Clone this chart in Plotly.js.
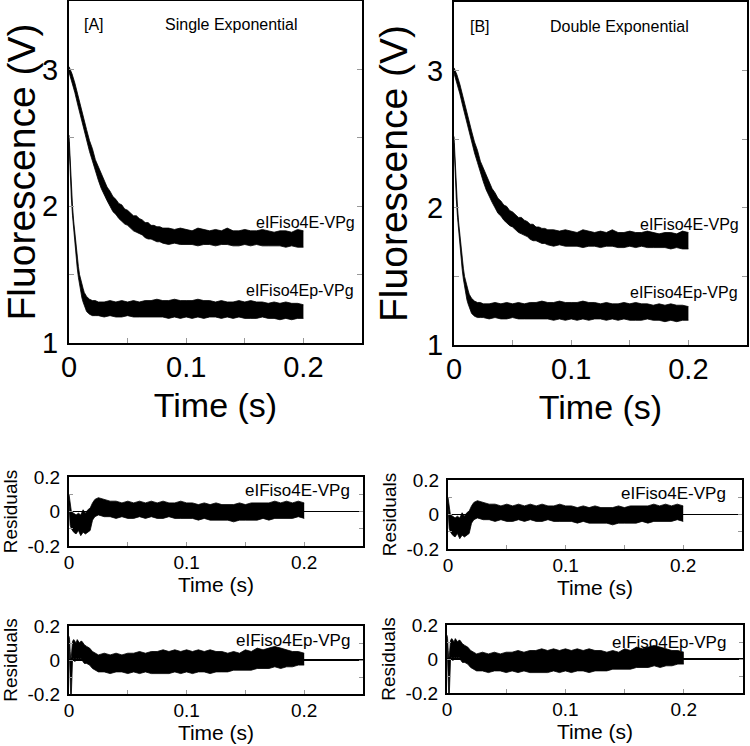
<!DOCTYPE html>
<html>
<head>
<meta charset="utf-8">
<script src="https://cdn.plot.ly/plotly-3.0.1.min.js"></script>
<style>html,body{margin:0;padding:0;background:#fff;}#chart{width:750px;height:746px;}</style>
</head>
<body>
<div id="chart"></div>
<script>
// ---- eIFiso4E-VPg fluorescence trace (band envelope) ----
const tE = [0,0.0025,0.005,0.0075,0.01,0.0125,0.015,0.0175,0.02,0.0225,0.025,0.0275,0.03,0.0325,0.035,0.0375,0.04,0.0425,0.045,0.0475,0.05,0.0525,0.055,0.0575,0.06,0.0625,0.065,0.0675,0.07,0.0725,0.075,0.0775,0.08,0.085,0.09,0.095,0.1,0.105,0.11,0.115,0.12,0.125,0.13,0.135,0.14,0.145,0.15,0.155,0.16,0.165,0.17,0.175,0.18,0.185,0.19,0.195,0.2];
const fluorE_upper = [3.02,2.97,2.90,2.81,2.72,2.65,2.56,2.48,2.42,2.34,2.29,2.23,2.18,2.14,2.11,2.07,2.05,2.02,2.01,1.98,1.97,1.95,1.93,1.93,1.91,1.90,1.88,1.88,1.86,1.86,1.85,1.85,1.84,1.84,1.83,1.84,1.83,1.82,1.84,1.83,1.82,1.83,1.82,1.84,1.82,1.82,1.83,1.82,1.82,1.83,1.82,1.81,1.82,1.82,1.81,1.83,1.82];
const fluorE_lower = [2.98,2.91,2.83,2.74,2.65,2.57,2.48,2.40,2.33,2.25,2.19,2.13,2.08,2.04,2.00,1.96,1.94,1.91,1.89,1.87,1.86,1.84,1.82,1.81,1.80,1.79,1.77,1.76,1.76,1.75,1.74,1.74,1.73,1.72,1.73,1.72,1.72,1.72,1.71,1.72,1.72,1.71,1.72,1.72,1.71,1.71,1.72,1.71,1.72,1.71,1.71,1.71,1.71,1.70,1.71,1.70,1.70];

// ---- eIFiso4Ep-VPg fluorescence trace ----
const tEp = [0,0.0005,0.001,0.0015,0.002,0.003,0.004,0.005,0.006,0.007,0.008,0.009,0.01,0.011,0.012,0.013,0.014,0.015,0.0175,0.02,0.0225,0.025,0.03,0.035,0.04,0.045,0.05,0.055,0.06,0.065,0.07,0.075,0.08,0.085,0.09,0.095,0.1,0.105,0.11,0.115,0.12,0.125,0.13,0.135,0.14,0.145,0.15,0.155,0.16,0.165,0.17,0.175,0.18,0.185,0.19,0.195,0.2];
const fluorEp_upper = [2.52,2.41,2.31,2.21,2.13,2.00,1.89,1.80,1.71,1.63,1.56,1.50,1.46,1.43,1.40,1.37,1.35,1.34,1.32,1.31,1.31,1.30,1.30,1.31,1.30,1.31,1.30,1.31,1.30,1.31,1.31,1.32,1.31,1.31,1.32,1.31,1.31,1.31,1.32,1.31,1.31,1.30,1.31,1.30,1.30,1.31,1.30,1.31,1.30,1.30,1.29,1.30,1.29,1.30,1.29,1.29,1.28];
const fluorEp_lower = [2.47,2.34,2.24,2.14,2.06,1.93,1.82,1.72,1.63,1.55,1.48,1.42,1.37,1.33,1.30,1.27,1.25,1.23,1.21,1.20,1.20,1.20,1.19,1.20,1.19,1.19,1.20,1.19,1.19,1.19,1.19,1.19,1.19,1.18,1.19,1.18,1.19,1.18,1.19,1.18,1.19,1.19,1.18,1.19,1.18,1.19,1.18,1.18,1.18,1.19,1.18,1.18,1.17,1.18,1.17,1.18,1.18];

// ---- residuals eIFiso4E-VPg ----
const tResE = [0,0.001,0.002,0.004,0.006,0.008,0.01,0.012,0.014,0.016,0.018,0.02,0.022,0.025,0.03,0.035,0.04,0.045,0.05,0.055,0.06,0.065,0.07,0.075,0.08,0.085,0.09,0.095,0.1,0.105,0.11,0.115,0.12,0.125,0.13,0.135,0.14,0.145,0.15,0.155,0.16,0.165,0.17,0.175,0.18,0.185,0.19,0.195,0.2];
const resE_upper = [0.10,0.04,0.00,-0.01,-0.02,-0.01,-0.02,0.01,-0.01,0.01,0.02,0.05,0.07,0.08,0.07,0.06,0.06,0.05,0.06,0.05,0.06,0.05,0.06,0.05,0.06,0.05,0.05,0.06,0.05,0.05,0.04,0.05,0.04,0.05,0.04,0.04,0.04,0.05,0.04,0.05,0.05,0.05,0.05,0.06,0.05,0.06,0.05,0.06,0.05];
const resE_lower = [0.04,-0.08,-0.10,-0.12,-0.13,-0.11,-0.14,-0.12,-0.13,-0.12,-0.11,-0.05,-0.03,-0.02,-0.03,-0.03,-0.04,-0.03,-0.04,-0.04,-0.03,-0.04,-0.03,-0.04,-0.04,-0.03,-0.04,-0.04,-0.04,-0.04,-0.05,-0.04,-0.05,-0.05,-0.05,-0.05,-0.06,-0.05,-0.05,-0.05,-0.05,-0.04,-0.05,-0.04,-0.04,-0.04,-0.04,-0.03,-0.04];

// ---- residuals eIFiso4Ep-VPg ----
const tResEp = [0,0.0005,0.001,0.0015,0.002,0.0025,0.003,0.004,0.005,0.006,0.007,0.008,0.009,0.01,0.011,0.012,0.013,0.015,0.0175,0.02,0.0225,0.025,0.03,0.035,0.04,0.045,0.05,0.055,0.06,0.065,0.07,0.075,0.08,0.085,0.09,0.095,0.1,0.105,0.11,0.115,0.12,0.125,0.13,0.135,0.14,0.145,0.15,0.155,0.16,0.165,0.17,0.175,0.18,0.185,0.19,0.195,0.2];
const resEp_upper = [0.14,0.12,0.05,0.00,0.02,0.09,0.11,0.12,0.11,0.10,0.12,0.11,0.10,0.11,0.11,0.10,0.09,0.08,0.07,0.05,0.04,0.03,0.04,0.03,0.04,0.03,0.04,0.04,0.05,0.04,0.05,0.05,0.06,0.05,0.06,0.05,0.06,0.05,0.06,0.05,0.06,0.05,0.05,0.04,0.05,0.04,0.06,0.05,0.07,0.06,0.07,0.08,0.07,0.06,0.05,0.05,0.04];
const resEp_lower = [0.10,-0.05,-0.22,-0.22,-0.20,-0.02,0.00,0.01,-0.01,0.01,0.00,0.01,0.00,0.01,0.00,-0.01,-0.02,-0.02,-0.03,-0.05,-0.06,-0.07,-0.07,-0.08,-0.07,-0.07,-0.08,-0.07,-0.08,-0.07,-0.08,-0.08,-0.08,-0.08,-0.07,-0.08,-0.07,-0.08,-0.07,-0.07,-0.08,-0.07,-0.07,-0.07,-0.06,-0.06,-0.06,-0.06,-0.05,-0.05,-0.05,-0.04,-0.05,-0.04,-0.04,-0.03,-0.03];

// ---- tick labels ----
const timeTickVals = [0,0.05,0.1,0.15,0.2];
const timeTickText = ['0','','0.1','','0.2'];
const fluorTickVals = [1,1.5,2,2.5,3];
const fluorTickText = ['1','','2','','3'];
const resTickVals = [-0.2,-0.1,0,0.1,0.2];
const resTickText = ['-0.2','','0','','0.2'];

const FONT = 'Liberation Sans, Arial, Helvetica, sans-serif';
const W = 750, H = 746;

function band(t, lo, up, xa, ya){
  return [
    {x:t, y:lo, xaxis:xa, yaxis:ya, type:'scatter', mode:'lines', line:{color:'#000', width:0.8}, hoverinfo:'skip'},
    {x:t, y:up, xaxis:xa, yaxis:ya, type:'scatter', mode:'lines', line:{color:'#000', width:0.8}, fill:'tonexty', fillcolor:'#000', hoverinfo:'skip'}
  ];
}

const data = [].concat(
  band(tE, fluorE_lower, fluorE_upper, 'x', 'y'),
  band(tEp, fluorEp_lower, fluorEp_upper, 'x', 'y'),
  band(tE, fluorE_lower, fluorE_upper, 'x2', 'y2'),
  band(tEp, fluorEp_lower, fluorEp_upper, 'x2', 'y2'),
  band(tResE, resE_lower, resE_upper, 'x3', 'y3'),
  band(tResEp, resEp_lower, resEp_upper, 'x4', 'y4'),
  band(tResE, resE_lower, resE_upper, 'x5', 'y5'),
  band(tResEp, resEp_lower, resEp_upper, 'x6', 'y6')
);

function xAxis(px0, px1, anchor, big){
  return {
    domain:[px0/W, px1/W], anchor:anchor, range:[0,0.25], fixedrange:true,
    tickvals:timeTickVals, ticktext:timeTickText, ticks:'inside', ticklen: big?5:4, tickcolor:'#999', tickwidth:1,
    showline:true, linecolor:'#000', linewidth:2, mirror:true, showgrid:false, zeroline:false,
    tickfont:{family:FONT, size: big?29:19, color:'#000'},
    ticklabelstandoff: big?-3:-2,
    title:{text:'Time (s)', font:{family:FONT, size: big?34:21, color:'#000'}, standoff: big?11:6}
  };
}
function yAxis(py0, py1, anchor, kind){
  const big = kind==='f';
  return {
    domain:[1-py1/H, 1-py0/H], anchor:anchor, fixedrange:true,
    range: big?[1,3.5]:[-0.2,0.2],
    tickvals: big?fluorTickVals:resTickVals, ticktext: big?fluorTickText:resTickText,
    ticks:'inside', ticklen: big?5:4, tickcolor:'#999', tickwidth:1,
    showline:true, linecolor:'#000', linewidth:2, mirror:'allticks', showgrid:false,
    zeroline: !big, zerolinecolor:'#000', zerolinewidth:1.5,
    tickfont:{family:FONT, size: big?29:19, color:'#000'},
    ticklabelstandoff: 3,
    title:{text: big?'Fluorescence (V)':'Residuals', font:{family:FONT, size: big?39:19, color:'#000'}, standoff: big?7:5}
  };
}

function note(text, px, py, size, anchor){
  return {text:text, xref:'paper', yref:'paper', x:px/W, y:1-py/H, xanchor:anchor, yanchor:'middle',
          showarrow:false, font:{family:FONT, size:size, color:'#000'}};
}

const layout = {
  width:W, height:H, margin:{l:0,r:0,t:0,b:0}, showlegend:false,
  paper_bgcolor:'#fff', plot_bgcolor:'#fff',
  xaxis: xAxis(69, 362, 'y', true),
  yaxis: yAxis(1, 343, 'x', 'f'),
  xaxis2: xAxis(454, 747, 'y2', true),
  yaxis2: yAxis(2, 345, 'x2', 'f'),
  xaxis3: xAxis(69, 363, 'y3', false),
  yaxis3: yAxis(477, 546, 'x3', 'r'),
  xaxis4: xAxis(69, 363, 'y4', false),
  yaxis4: yAxis(626, 694, 'x4', 'r'),
  xaxis5: xAxis(448, 742, 'y5', false),
  yaxis5: yAxis(480, 549, 'x5', 'r'),
  xaxis6: xAxis(447, 743, 'y6', false),
  yaxis6: yAxis(625, 693, 'x6', 'r'),
  annotations: [
    note('[A]', 82, 24, 16, 'left'),
    note('Single Exponential', 163, 24, 16, 'left'),
    note('[B]', 468, 26, 16, 'left'),
    note('Double Exponential', 548, 26, 16, 'left'),
    note('eIFiso4E-VPg', 357, 223, 16, 'right'),
    note('eIFiso4Ep-VPg', 356, 290, 16, 'right'),
    note('eIFiso4E-VPg', 741, 225, 16, 'right'),
    note('eIFiso4Ep-VPg', 740, 293, 16, 'right'),
    note('eIFiso4E-VPg', 352, 490, 17, 'right'),
    note('eIFiso4Ep-VPg', 352, 640, 17, 'right'),
    note('eIFiso4E-VPg', 728, 493, 17, 'right'),
    note('eIFiso4Ep-VPg', 728, 642, 17, 'right')
  ]
};

Plotly.newPlot('chart', data, layout, {staticPlot:true, displayModeBar:false});
</script>
</body>
</html>
